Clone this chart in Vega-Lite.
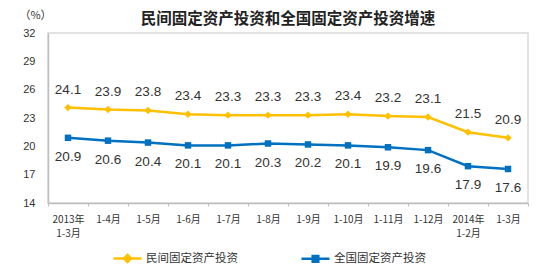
{
  "$schema": "https://vega.github.io/schema/vega-lite/v6.json",
  "width": 480,
  "height": 170,
  "autosize": {"type": "none"},
  "padding": {"left": 48, "top": 33, "right": 22, "bottom": 75},
  "background": "white",
  "config": {
    "view": {"stroke": "#d9d9d9", "strokeWidth": 1.5},
    "text": {"font": "Liberation Sans"}
  },
  "title": {
    "text": "民间固定资产投资和全国固定资产投资增速",
    "font": "Noto Sans CJK SC",
    "fontSize": 15.5,
    "fontWeight": "bold",
    "color": "#222222",
    "anchor": "middle",
    "offset": 5,
    "dy": 23
  },
  "data": {
    "values": [
      {"month": "2013年|1-3月", "series": "民间固定资产投资", "value": 24.1},
      {"month": "1-4月", "series": "民间固定资产投资", "value": 23.9},
      {"month": "1-5月", "series": "民间固定资产投资", "value": 23.8},
      {"month": "1-6月", "series": "民间固定资产投资", "value": 23.4},
      {"month": "1-7月", "series": "民间固定资产投资", "value": 23.3},
      {"month": "1-8月", "series": "民间固定资产投资", "value": 23.3},
      {"month": "1-9月", "series": "民间固定资产投资", "value": 23.3},
      {"month": "1-10月", "series": "民间固定资产投资", "value": 23.4},
      {"month": "1-11月", "series": "民间固定资产投资", "value": 23.2},
      {"month": "1-12月", "series": "民间固定资产投资", "value": 23.1},
      {"month": "2014年|1-2月", "series": "民间固定资产投资", "value": 21.5},
      {"month": "1-3月", "series": "民间固定资产投资", "value": 20.9},
      {"month": "2013年|1-3月", "series": "全国固定资产投资", "value": 20.9},
      {"month": "1-4月", "series": "全国固定资产投资", "value": 20.6},
      {"month": "1-5月", "series": "全国固定资产投资", "value": 20.4},
      {"month": "1-6月", "series": "全国固定资产投资", "value": 20.1},
      {"month": "1-7月", "series": "全国固定资产投资", "value": 20.1},
      {"month": "1-8月", "series": "全国固定资产投资", "value": 20.3},
      {"month": "1-9月", "series": "全国固定资产投资", "value": 20.2},
      {"month": "1-10月", "series": "全国固定资产投资", "value": 20.1},
      {"month": "1-11月", "series": "全国固定资产投资", "value": 19.9},
      {"month": "1-12月", "series": "全国固定资产投资", "value": 19.6},
      {"month": "2014年|1-2月", "series": "全国固定资产投资", "value": 17.9},
      {"month": "1-3月", "series": "全国固定资产投资", "value": 17.6}
    ]
  },
  "encoding": {
    "x": {
      "field": "month",
      "type": "nominal",
      "sort": null,
      "scale": {"type": "band", "paddingInner": 0, "paddingOuter": 0},
      "axis": {
        "title": null,
        "labelAngle": 0,
        "labelExpr": "split(datum.label, '|')",
        "labelFont": "Noto Sans CJK SC",
        "labelFontSize": 10,
        "labelColor": "#333333",
        "labelLineHeight": 14,
        "labelPadding": 8,
        "tickBand": "extent",
        "tickSize": 3,
        "tickColor": "#bfbfbf",
        "domainColor": "#bfbfbf",
        "domainWidth": 1.5
      }
    },
    "y": {
      "field": "value",
      "type": "quantitative",
      "scale": {"domain": [14, 32], "nice": false, "zero": false},
      "axis": {
        "values": [14, 17, 20, 23, 26, 29, 32],
        "grid": false,
        "title": "（%）",
        "titleAngle": 0,
        "titleX": -13,
        "titleY": -18,
        "titleAlign": "center",
        "titleBaseline": "middle",
        "titleFont": "Noto Sans CJK SC",
        "titleFontSize": 11,
        "titleFontWeight": "normal",
        "titleColor": "#333333",
        "labelFont": "Liberation Sans",
        "labelFontSize": 11,
        "labelColor": "#333333",
        "labelPadding": 13,
        "tickSize": 0,
        "domainColor": "#bfbfbf",
        "domainWidth": 1.5
      }
    },
    "color": {
      "field": "series",
      "type": "nominal",
      "scale": {"domain": ["民间固定资产投资", "全国固定资产投资"], "range": ["#FFC000", "#0070C0"]},
      "legend": {
        "orient": "none",
        "legendX": 64,
        "legendY": 210,
        "direction": "horizontal",
        "title": null,
        "symbolSize": 784,
        "symbolStrokeWidth": 2.5,
        "labelFont": "Noto Sans CJK SC",
        "labelFontSize": 11.5,
        "labelColor": "#333333",
        "labelOffset": 3,
        "columnPadding": 58,
        "encode": {
          "symbols": {
            "update": {
              "shape": {"signal": "datum.value === '民间固定资产投资' ? 'M-1,0H1M0,-0.25L0.25,0L0,0.25L-0.25,0Z' : 'M-1,0H1M-0.2,-0.2H0.2V0.2H-0.2Z'"},
              "fill": {"scale": "color", "field": "value"},
              "stroke": {"scale": "color", "field": "value"},
              "strokeWidth": {"value": 2.5},
              "opacity": {"value": 1}
            }
          }
        }
      }
    }
  },
  "layer": [
    {"mark": {"type": "line", "strokeWidth": 2.5}},
    {
      "transform": [{"filter": "datum.series === '民间固定资产投资'"}],
      "mark": {"type": "point", "filled": true, "opacity": 1, "shape": "diamond", "size": 55}
    },
    {
      "transform": [{"filter": "datum.series === '全国固定资产投资'"}],
      "mark": {"type": "point", "filled": true, "opacity": 1, "shape": "square", "size": 42}
    },
    {
      "transform": [{"filter": "datum.series === '民间固定资产投资'"}],
      "mark": {"type": "text", "dy": -18, "fontSize": 13.5, "color": "#333333", "baseline": "middle"},
      "encoding": {"text": {"field": "value", "type": "quantitative", "format": ".1f"}, "color": {"value": "#333333"}}
    },
    {
      "transform": [{"filter": "datum.series === '全国固定资产投资'"}],
      "mark": {"type": "text", "dy": 19, "fontSize": 13.5, "color": "#333333", "baseline": "middle"},
      "encoding": {"text": {"field": "value", "type": "quantitative", "format": ".1f"}, "color": {"value": "#333333"}}
    }
  ]
}
